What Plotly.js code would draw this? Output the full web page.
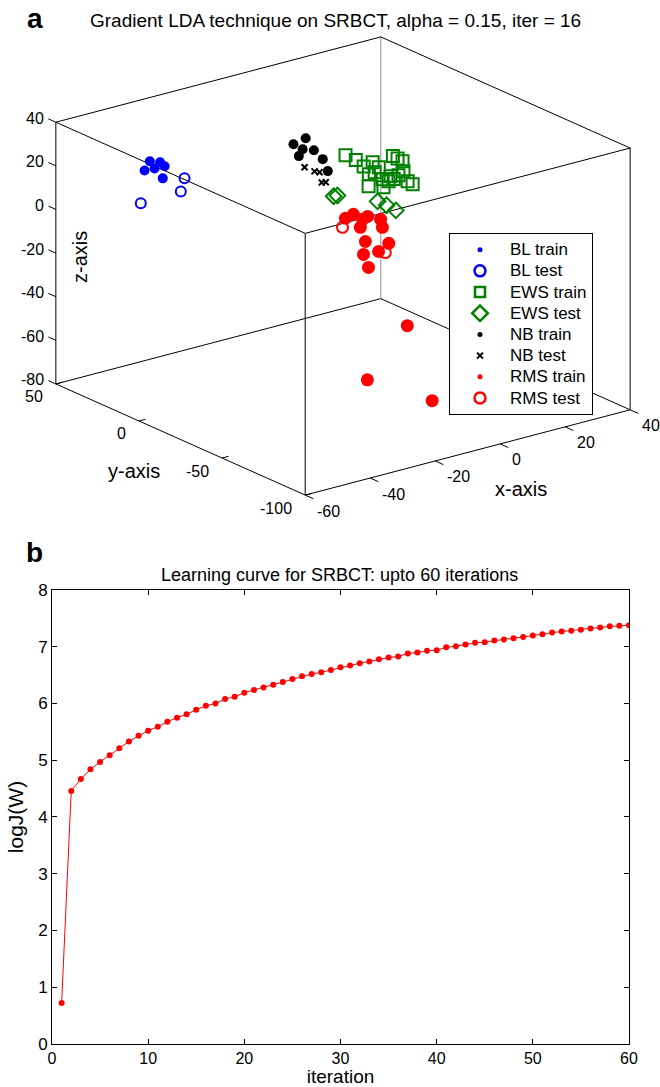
<!DOCTYPE html>
<html>
<head>
<meta charset="utf-8">
<script src="https://cdn.plot.ly/plotly-3.0.1.min.js"></script>
<style>html,body{margin:0;padding:0;background:#fff;}#chart{width:660px;height:1087px;}</style>
</head>
<body>
<div id="chart"></div>
<script>
// ---------- Panel a: 3D scatter data (x, y, z) ----------
const blTrainX = [-41.3, -35.6, -38.8, -38.3, -46.0, -36.3];
const blTrainY = [30, 35, 26, 33, 24, 32];
const blTrainZ = [21.6, 17.2, 19.7, 16.1, 21.2, 11.1];

const blTestX = [-29.1, -32.8, -40.0];
const blTestY = [33, 28, 38];
const blTestZ = [8.0, 5.1, -0.9];

const ewsTrainX = [5.1, 5.7, 11.7, 11.9, 16.1, 20.6, 20.6, 12.8, 11.0, 15.5, 20.5, 17.3, 21.4, 23.7, 23.2, 12.2, 13.2, 18.9, 16.3, 13.8];
const ewsTrainY = [3, -2, 5, 0, -4, 2, -1, 4, -3, 1, 6, -5, 0, 2, -2, 3, -4, 1, -1, 0];
const ewsTrainZ = [15.4, 14.6, 7.0, 10.5, 13.1, 8.2, 7.9, 3.3, 7.3, 1.0, -1.3, 4.1, 2.7, -3.5, -3.3, -1.6, -0.1, -0.3, 0.4, 7.5];

const ewsTestX = [-0.1, 2.1, 11.9, 16.7, 21.1];
const ewsTestY = [0, 2, -3, 1, 4];
const ewsTestZ = [-0.4, -1.6, -6.4, -11.4, -16.5];

const nbTrainX = [-1.2, 0.0, 0.6, 6.1, -1.6, 7.3, 6.3];
const nbTrainY = [22, 17, 20, 24, 18, 21, 16];
const nbTrainZ = [16.4, 20.4, 14.1, 10.1, 12.5, 6.6, 3.2];

const nbTestX = [1.2, 5.8, 4.8, 7.5, 7.2];
const nbTestY = [20, 23, 18, 22, 19];
const nbTestZ = [5.6, 0.9, 2.6, -4.5, -3.3];

const rmsTrainX = [-6.7, -2.7, -2.4, 2.2, 2.6, -1.6, 5.7, -2.6, 9.2, 3.0, 0.4, 0.4, -3.0, -15.3, -10.7];
const rmsTrainY = [-20, -17, -22, -16, -23, -19, -18, -24, -15, -21, -17, -20, -50, -50, -80];
const rmsTrainZ = [-1.1, -1.9, -2.6, -5.1, -4.2, -7.6, -10.8, -12.0, -20.5, -19.8, -21.5, -26.4, -41.6, -61.6, -62.8];

const rmsTestX = [-7.6, 6.6];
const rmsTestY = [-20, -18];
const rmsTestZ = [-4.9, -22.7];

const xRange3 = [-60, 40];
const yRange3 = [-100, 50];
const zRange3 = [-80, 40];
const xTicks3 = [-60, -40, -20, 0, 20, 40];
const yTicks3 = [-100, -50, 0, 50];
const zTicks3 = [-80, -60, -40, -20, 0, 20, 40];

// ---------- Panel b: learning curve ----------
const iterations = [1,2,3,4,5,6,7,8,9,10,11,12,13,14,15,16,17,18,19,20,21,22,23,24,25,26,27,28,29,30,31,32,33,34,35,36,37,38,39,40,41,42,43,44,45,46,47,48,49,50,51,52,53,54,55,56,57,58,59,60];
const logJ = [0.72,4.46,4.67,4.84,4.97,5.09,5.21,5.33,5.43,5.52,5.59,5.68,5.75,5.81,5.89,5.96,6.00,6.08,6.12,6.19,6.24,6.28,6.33,6.38,6.43,6.48,6.52,6.55,6.59,6.64,6.67,6.71,6.74,6.78,6.81,6.83,6.88,6.90,6.93,6.94,6.99,7.01,7.04,7.07,7.08,7.11,7.13,7.15,7.17,7.20,7.22,7.25,7.27,7.28,7.30,7.32,7.34,7.36,7.37,7.38];
const xTicks2 = [0, 10, 20, 30, 40, 50, 60];
const yTicks2 = [0, 1, 2, 3, 4, 5, 6, 7, 8];

const FONT = 'Liberation Sans, Arial, Helvetica, sans-serif';

// ---------- orthographic 3D view (MATLAB-style az/el), projected onto a hidden cartesian scale ----------
const AZ = -37.5, EL = 20;                 // view angles in degrees
const BOX = {x: 1, y: 1, z: 0.68};          // plot-box aspect
const VIEW_SCALE = 409.6;                   // px per box unit
const VIEW_CENTER = [343, 266];             // px position of box centre
const PHI = (90 + AZ) * Math.PI / 180, ELR = EL * Math.PI / 180;
function proj(x, y, z) {
  if (x === null) return [null, null];
  const xn = (x - (xRange3[0] + xRange3[1]) / 2) / (xRange3[1] - xRange3[0]) * BOX.x;
  const yn = (y - (yRange3[0] + yRange3[1]) / 2) / (yRange3[1] - yRange3[0]) * BOX.y;
  const zn = (z - (zRange3[0] + zRange3[1]) / 2) / (zRange3[1] - zRange3[0]) * BOX.z;
  const h = xn * Math.sin(PHI) - yn * Math.cos(PHI);
  const v = Math.sin(ELR) * (xn * Math.cos(PHI) + yn * Math.sin(PHI)) + Math.cos(ELR) * zn;
  return [h, v];
}
function projAll(X, Y, Z) {
  const H = [], V = [];
  X.forEach((x, i) => { const p = proj(x, Y[i], Z[i]); H.push(p[0]); V.push(p[1]); });
  return {H, V};
}
function segs(list) {
  const X = [], Y = [], Z = [];
  list.forEach(([a, b]) => { X.push(a[0], b[0], null); Y.push(a[1], b[1], null); Z.push(a[2], b[2], null); });
  return projAll(X, Y, Z);
}
const [x0, x1] = xRange3, [y0, y1] = yRange3, [z0, z1] = zRange3;
const frontEdges = [];
[z0, z1].forEach(z => {
  frontEdges.push([[x0, y0, z], [x1, y0, z]], [[x0, y1, z], [x1, y1, z]], [[x0, y0, z], [x0, y1, z]], [[x1, y0, z], [x1, y1, z]]);
});
frontEdges.push([[x0, y0, z0], [x0, y0, z1]], [[x1, y0, z0], [x1, y0, z1]], [[x0, y1, z0], [x0, y1, z1]]);
const backEdges = [[[x1, y1, z0], [x1, y1, z1]]];
// tick marks
const ZT_LEN = 0.03 * (y1 - y0), YT_LEN = 0.02 * (x1 - x0), XT_LEN = 0.033 * (y1 - y0);
const tickSegs = [];
zTicks3.forEach(t => tickSegs.push([[x0, y1, t], [x0, y1 + ZT_LEN, t]]));
yTicks3.forEach(t => tickSegs.push([[x0, t, z0], [x0 + YT_LEN, t, z0]]));
xTicks3.forEach(t => tickSegs.push([[t, y0, z0], [t, y0 - XT_LEN, z0]]));

const pf = segs(frontEdges), pb = segs(backEdges), pt = segs(tickSegs);

function s2(name, X, Y, Z, symbol, color, size, lw) {
  const p = projAll(X, Y, Z);
  return {type: 'scatter', mode: 'markers', name: name, x: p.H, y: p.V, xaxis: 'x2', yaxis: 'y2',
    marker: {symbol: symbol, color: color, size: size, line: {color: color, width: lw}},
    hoverinfo: 'skip', showlegend: false, cliponaxis: false};
}
function leg(name, symbol, color, size, lw) {
  return {type: 'scatter', mode: 'markers', name: '<span style="font-size:17px">' + name + '</span>', x: [null], y: [null], xaxis: 'x2', yaxis: 'y2',
    marker: {symbol: symbol, color: color, size: size, line: {color: color, width: lw}}, hoverinfo: 'skip', showlegend: true};
}
function lines(p, color) {
  return {type: 'scatter', mode: 'lines', x: p.H, y: p.V, xaxis: 'x2', yaxis: 'y2', line: {color: color, width: 1},
    showlegend: false, hoverinfo: 'skip', connectgaps: false, cliponaxis: false};
}

const traces = [
  lines(pb, '#8c8c8c'), lines(pf, '#000'), lines(pt, '#000'),
  s2('BL train', blTrainX, blTrainY, blTrainZ, 'circle', '#0000ff', 10, 0),
  s2('BL test', blTestX, blTestY, blTestZ, 'circle-open', '#0000ff', 10, 2),
  s2('EWS train', ewsTrainX, ewsTrainY, ewsTrainZ, 'square-open', '#008000', 12, 2),
  s2('EWS test', ewsTestX, ewsTestY, ewsTestZ, 'diamond-open', '#008000', 12, 2),
  s2('NB train', nbTrainX, nbTrainY, nbTrainZ, 'circle', '#000000', 10, 0),
  s2('NB test', nbTestX, nbTestY, nbTestZ, 'x-thin-open', '#000000', 6, 2),
  s2('RMS train', rmsTrainX, rmsTrainY, rmsTrainZ, 'circle', '#ff0000', 13, 0),
  s2('RMS test', rmsTestX, rmsTestY, rmsTestZ, 'circle-open', '#ff0000', 11, 2),
  leg('BL train', 'circle', '#0000ff', 5, 0),
  leg('BL test', 'circle-open', '#0000ff', 11, 2.5),
  leg('EWS train', 'square-open', '#008000', 10, 2.5),
  leg('EWS test', 'diamond-open', '#008000', 12, 2.5),
  leg('NB train', 'circle', '#000000', 5, 0),
  leg('NB test', 'x-thin-open', '#000000', 6, 2),
  leg('RMS train', 'circle', '#ff0000', 5, 0),
  leg('RMS test', 'circle-open', '#ff0000', 11, 2.5),
  {type: 'scatter', mode: 'lines+markers', x: iterations, y: logJ, xaxis: 'x', yaxis: 'y',
   line: {color: '#ff0000', width: 1}, marker: {color: '#ff0000', size: 6}, showlegend: false, hoverinfo: 'skip'}
];

// tick labels of the 3D panel
const annotations = [];
const TF = {size: 16, family: FONT, color: '#000'};
zTicks3.forEach(t => { const p = proj(x0, y1, t);
  annotations.push({text: String(t), x: p[0], y: p[1], xref: 'x2', yref: 'y2', showarrow: false, xanchor: 'right', yanchor: 'middle', xshift: -10, yshift: 4, font: TF}); });
yTicks3.forEach(t => { const p = proj(x0, t, z0);
  annotations.push({text: String(t), x: p[0], y: p[1], xref: 'x2', yref: 'y2', showarrow: false, xanchor: 'right', yanchor: 'middle', xshift: -11, yshift: -13, font: TF}); });
xTicks3.forEach(t => { const p = proj(t, y0, z0);
  annotations.push({text: String(t), x: p[0], y: p[1], xref: 'x2', yref: 'y2', showarrow: false, xanchor: 'left', yanchor: 'middle', xshift: 10, yshift: -16, font: TF}); });

const AF = {size: 20, family: FONT, color: '#000'};
annotations.push(
  {text: 'z-axis', xref: 'paper', yref: 'paper', x: 0.1212, y: 0.7636, textangle: -90, showarrow: false, xanchor: 'center', yanchor: 'middle', font: AF},
  {text: 'y-axis', xref: 'paper', yref: 'paper', x: 0.2030, y: 0.5667, showarrow: false, xanchor: 'center', yanchor: 'middle', font: AF},
  {text: 'x-axis', xref: 'paper', yref: 'paper', x: 0.7894, y: 0.5501, showarrow: false, xanchor: 'center', yanchor: 'middle', font: AF},
  {text: '<b>a</b>', xref: 'paper', yref: 'paper', x: 0.053, y: 0.9834, showarrow: false, font: {size: 28, family: FONT}, xanchor: 'center', yanchor: 'middle'},
  {text: 'Gradient LDA technique on SRBCT, alpha = 0.15, iter = 16', xref: 'paper', yref: 'paper', x: 0.508, y: 0.9816, showarrow: false, font: {size: 19, family: FONT}, xanchor: 'center', yanchor: 'middle'},
  {text: '<b>b</b>', xref: 'paper', yref: 'paper', x: 0.053, y: 0.4913, showarrow: false, font: {size: 28, family: FONT}, xanchor: 'center', yanchor: 'middle'},
  {text: 'Learning curve for SRBCT: upto 60 iterations', xref: 'paper', yref: 'paper', x: 0.515, y: 0.471, showarrow: false, font: {size: 18, family: FONT}, xanchor: 'center', yanchor: 'middle'}
);

const W = 660, H = 1087;
const yDom2 = [0.5, 1];
const x2Range = [(0 - VIEW_CENTER[0]) / VIEW_SCALE, (W - VIEW_CENTER[0]) / VIEW_SCALE];
const y2Range = [(VIEW_CENTER[1] - H * (1 - yDom2[0])) / VIEW_SCALE, (VIEW_CENTER[1] - H * (1 - yDom2[1])) / VIEW_SCALE];

const layout = {
  width: W, height: H,
  margin: {l: 0, r: 0, t: 0, b: 0},
  paper_bgcolor: '#fff', plot_bgcolor: 'rgba(0,0,0,0)',
  font: {family: FONT, color: '#000'},
  hovermode: false,
  xaxis2: {domain: [0, 1], range: x2Range, visible: false, anchor: 'y2', fixedrange: true},
  yaxis2: {domain: yDom2, range: y2Range, visible: false, anchor: 'x2', fixedrange: true},
  legend: {x: 0.6803, y: 0.7856, xanchor: 'left', yanchor: 'top', bgcolor: '#fff', bordercolor: '#000', borderwidth: 1,
    font: {size: 14, family: FONT, color: '#000'}, itemwidth: 50, tracegroupgap: 0},
  xaxis: {domain: [0.0788, 0.953], anchor: 'y', range: [0, 60], tickvals: xTicks2, showgrid: false, zeroline: false,
    showline: true, linecolor: '#000', linewidth: 1, mirror: 'allticks', ticks: 'inside', ticklen: 5, tickcolor: '#000',
    tickfont: {size: 16, family: FONT}, title: {text: 'iteration', font: {size: 19, family: FONT}, standoff: 1}},
  yaxis: {domain: [0.0396, 0.4572], anchor: 'x', range: [0, 8], tickvals: yTicks2, showgrid: false, zeroline: false,
    showline: true, linecolor: '#000', linewidth: 1, mirror: 'allticks', ticks: 'inside', ticklen: 5, tickcolor: '#000',
    tickfont: {size: 17, family: FONT}, title: {text: 'logJ(W)', font: {size: 21, family: FONT}, standoff: 8}},
  annotations: annotations
};

Plotly.newPlot('chart', traces, layout, {displayModeBar: false, staticPlot: true});
</script>
</body>
</html>
